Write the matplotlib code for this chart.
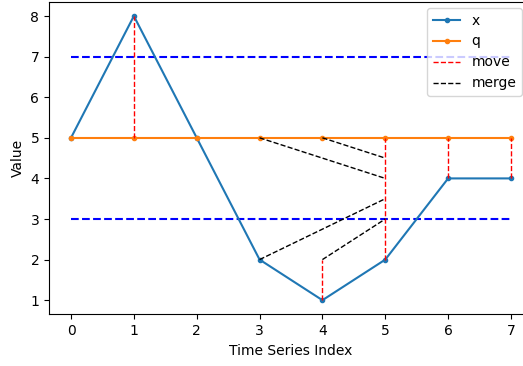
from matplotlib import pyplot as plt

idx = [0, 1, 2, 3, 4, 5, 6, 7]
x = [5, 8, 5, 2, 1, 2, 4, 4]
q = [5, 5, 5, 5, 5, 5, 5, 5]
bounds = [7, 3]

# move: (index, from, to)
moves = [(1, 5, 8), (4, 1, 2), (5, 2, 5), (6, 4, 5), (7, 4, 5)]
# merge: (x0, y0, x1, y1)
merges = [(3, 5, 5, 4), (4, 5, 5, 4.5), (3, 2, 5, 3.5), (4, 2, 5, 3)]

fig = plt.figure(figsize=(5.23, 3.66), dpi=100)
ax = fig.add_axes([0.0937, 0.141, 0.9254, 0.854])

for b in bounds:
    ax.plot([idx[0], idx[-1]], [b, b], 'b--', linewidth=1.5)

ax.plot(idx, x, marker='.', color='tab:blue', label='x')
ax.plot(idx, q, marker='.', color='tab:orange', label='q')

for i, (t, a, b) in enumerate(moves):
    ax.plot([t, t], [a, b], 'r--', linewidth=1, label='move' if i == 0 else None)
for i, (x0, y0, x1, y1) in enumerate(merges):
    ax.plot([x0, x1], [y0, y1], 'k--', linewidth=1, label='merge' if i == 0 else None)

ax.set_xlabel('Time Series Index')
ax.set_ylabel('Value')
ax.legend(loc='upper right', bbox_to_anchor=(522 / 523, 1 - 8 / 366),
          bbox_transform=fig.transFigure, borderaxespad=0)

fig.savefig('out.png', dpi=100)
